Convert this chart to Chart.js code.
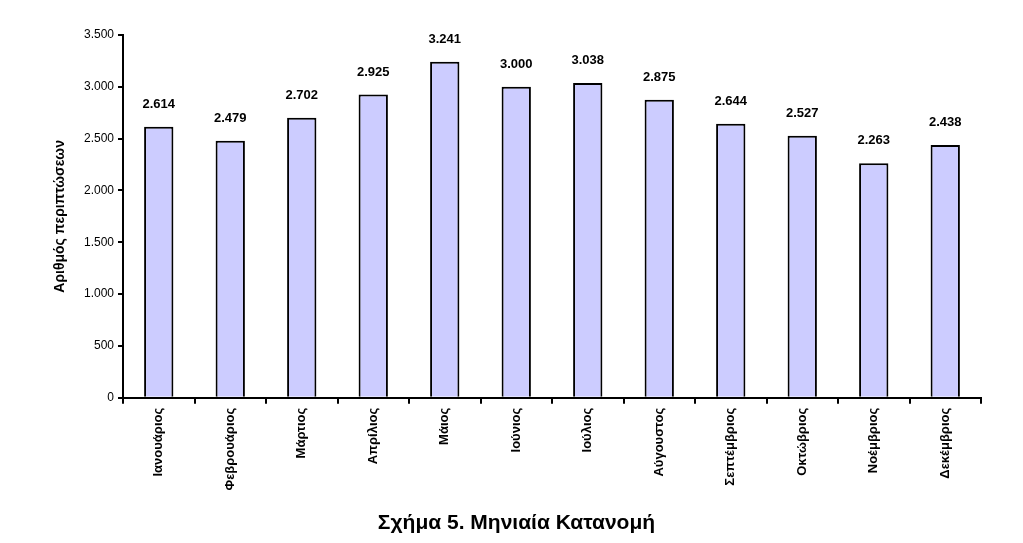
<!DOCTYPE html>
<html>
<head>
<meta charset="utf-8">
<script src="https://cdn.jsdelivr.net/npm/chart.js@4"></script>
<style>
  html, body { margin: 0; padding: 0; background: #fff; }
  #wrap { width: 1023px; height: 543px; }
</style>
</head>
<body>
<div id="wrap"><canvas id="grafico" width="1023" height="543"></canvas></div>
<script>
const mines = ["Ιανουάριος","Φεβρουάριος","Μάρτιος","Απρίλιος","Μάιος","Ιούνιος","Ιούλιος","Αύγουστος","Σεπτέμβριος","Οκτώβριος","Νοέμβριος","Δεκέμβριος"];
const periptoseis = [2614, 2479, 2702, 2925, 3241, 3000, 3038, 2875, 2644, 2527, 2263, 2438];
const yTicks = [0, 500, 1000, 1500, 2000, 2500, 3000, 3500];

const FONT = "'Liberation Sans', Arial, sans-serif";

function arithmos(v) {
    return String(v).replace(/\B(?=(\d{3})+(?!\d))/g, '.');
}

// etiketes timon panw apo tis mpares
const etiketes = {
    id: 'etiketes',
    afterDatasetsDraw(chart) {
        const ctx = chart.ctx;
        const meta = chart.getDatasetMeta(0);
        ctx.save();
        ctx.font = "bold 13px " + FONT;
        ctx.fillStyle = '#000';
        ctx.textAlign = 'center';
        ctx.textBaseline = 'bottom';
        meta.data.forEach((bar, i) => {
            ctx.fillText(arithmos(periptoseis[i]), bar.x, bar.y - 16);
        });
        ctx.restore();
    }
};

new Chart(document.getElementById('grafico'), {
    type: 'bar',
    data: {
        labels: mines,
        datasets: [{
            data: periptoseis,
            backgroundColor: '#ccccff',
            borderColor: '#000',
            borderWidth: 2,
            barPercentage: 0.41,
            categoryPercentage: 1
        }]
    },
    options: {
        responsive: false,
        animation: false,
        devicePixelRatio: 1,
        layout: { padding: { left: 52, right: 42, top: 35, bottom: 7 } },
        plugins: {
            legend: { display: false },
            tooltip: { enabled: false },
            title: {
                display: true,
                position: 'bottom',
                text: 'Σχήμα 5. Μηνιαία Κατανομή',
                color: '#000',
                font: { family: FONT, size: 21, weight: 'bold' },
                padding: { top: 0, bottom: 0 }
            }
        },
        scales: {
            x: {
                afterFit(s) { s.height = 113; },
                border: { color: '#000', width: 2 },
                grid: { drawOnChartArea: false, drawTicks: true, tickLength: 6, color: '#000', lineWidth: 2, offset: true },
                ticks: {
                    color: '#000',
                    maxRotation: 90,
                    minRotation: 90,
                    autoSkip: false,
                    padding: 4,
                    font: { family: FONT, size: 13, weight: 'bold' }
                }
            },
            y: {
                min: 0,
                max: 3500,
                afterFit(s) { s.width = 71; },
                afterBuildTicks(s) { s.ticks = yTicks.map(v => ({ value: v })); },
                border: { color: '#000', width: 2 },
                grid: { drawOnChartArea: false, drawTicks: true, tickLength: 5, color: '#000', lineWidth: 2 },
                ticks: {
                    color: '#000',
                    padding: 4,
                    font: { family: FONT, size: 12 },
                    callback: v => arithmos(v)
                },
                title: {
                    display: true,
                    text: 'Αριθμός περιπτώσεων',
                    color: '#000',
                    font: { family: FONT, size: 14, weight: 'bold' },
                    padding: { top: 0, bottom: 0 }
                }
            }
        }
    },
    plugins: [etiketes]
});
</script>
</body>
</html>
